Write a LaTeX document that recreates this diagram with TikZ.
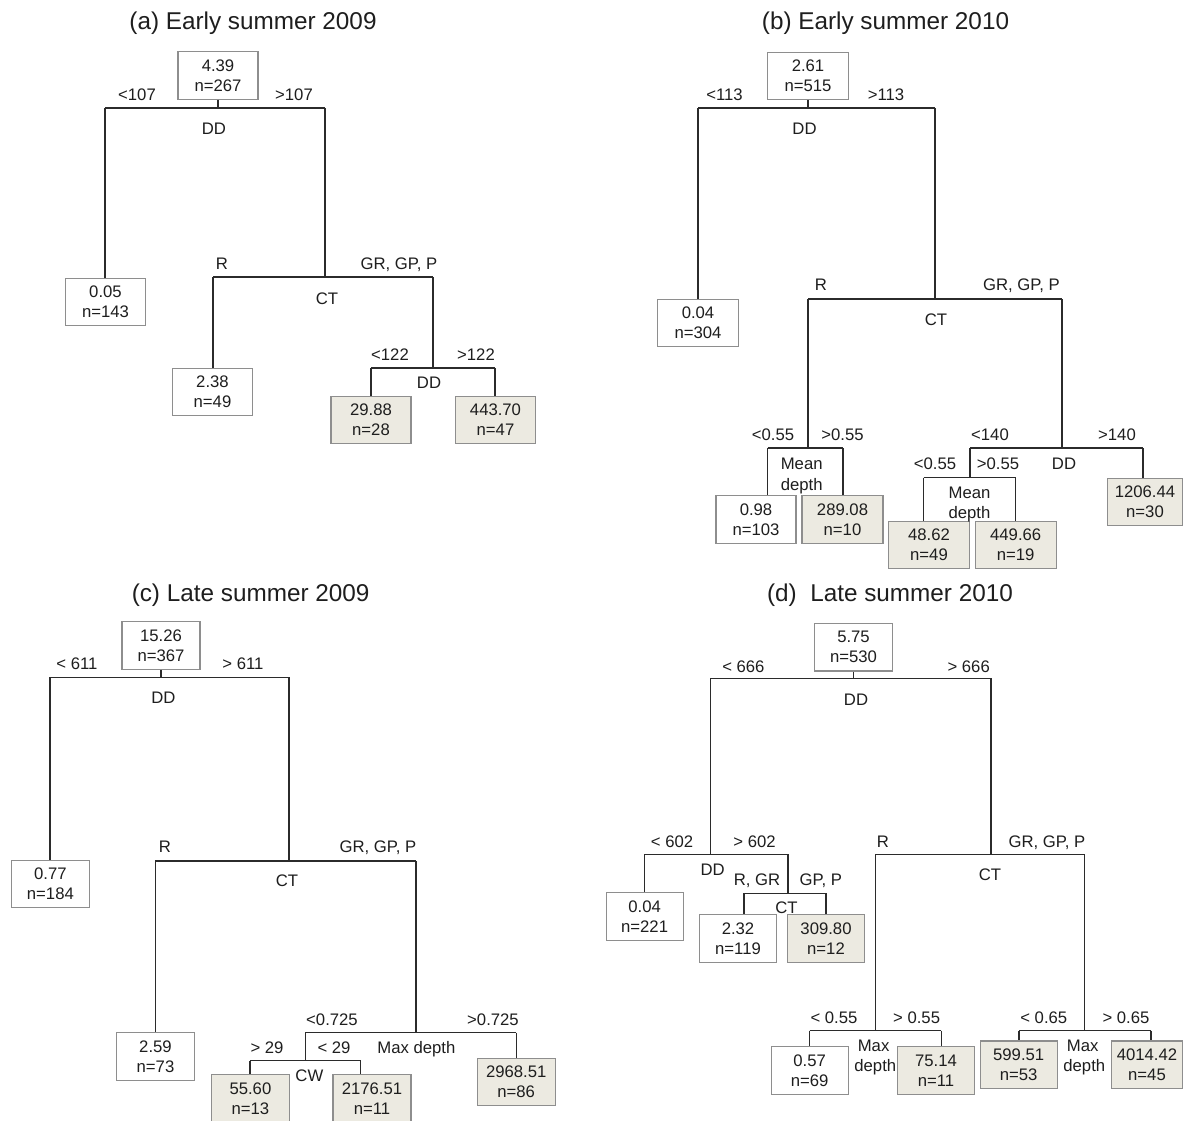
\documentclass[tikz,border=0pt]{standalone}
\usepackage{fontspec}
\setmainfont{Liberation Sans}
\definecolor{boxgray}{HTML}{8E8E8E}
\definecolor{leafshade}{HTML}{ECEAE1}
\definecolor{lncol}{HTML}{2B2B2B}
\definecolor{txcol}{HTML}{1E1E1E}
\newcommand{\labf}{\fontsize{8.35}{10}\selectfont}
\newcommand{\titf}{\fontsize{12.15}{14}\selectfont}
\begin{document}
\begin{tikzpicture}[x=0.5pt,y=-0.5pt,
  tb/.style={draw=boxgray, line width=0.6pt, fill=white, inner sep=0pt, align=center, font=\labf, text=txcol, minimum height=23.8pt, minimum width=#1},
  tb/.default=39.5pt,
  lsh/.style={fill=leafshade},
  lb/.style={font=\labf, text=txcol, inner sep=0pt, text height=6pt, text depth=0pt},
  ttl/.style={font=\titf, text=txcol, inner sep=0pt, anchor=base},
  br/.style={draw=lncol, line width=0.75pt}]
\useasboundingbox (0,0) rectangle (1189,1120);
\clip (0,0) rectangle (1189,1120);
\fill[white] (0,0) rectangle (1189,1120);

% ---------------- (a) ----------------
\node[ttl] (tA) at (253,29.5) {(a) Early summer 2009};
\node[tb=40pt] (a0) at (218,75.5) {4.39\\n=267};
\coordinate (aL) at (105,108); \coordinate (aR) at (325,108);
\draw[br] (a0.south) -- (a0.south |- aL);
\draw[br] (aL) -- (aR);
\node[lb] (a0l) at (137,94) {<107};
\node[lb] (a0r) at (294,94) {>107};
\node[lb] (a0v) at (214,128) {DD};
\node[tb=40pt] (a1) at (105.5,302) {0.05\\n=143};
\draw[br] (aL) -- (aL |- a1.north);
\coordinate (aCL) at (213,277); \coordinate (aCR) at (433,277);
\draw[br] (aR) -- (aR |- aCL);
\draw[br] (aCL) -- (aCR);
\node[lb] (a1l) at (222,263) {R};
\node[lb] (a1r) at (399,263) {GR, GP, P};
\node[lb] (a1v) at (327,298) {CT};
\node[tb=40pt] (a2) at (212.5,392) {2.38\\n=49};
\draw[br] (aCL) -- (aCL |- a2.north);
\coordinate (aDL) at (371,368); \coordinate (aDR) at (495,368);
\draw[br] (aCR) -- (aCR |- aDL);
\draw[br] (aDL) -- (aDR);
\node[lb] (a2l) at (390,354) {<122};
\node[lb] (a2r) at (476,354) {>122};
\node[lb] (a2v) at (429,382) {DD};
\node[tb=40pt,lsh] (a3) at (371,420) {29.88\\n=28};
\node[tb=40pt,lsh] (a4) at (495.5,420) {443.70\\n=47};
\draw[br] (aDL) -- (aDL |- a3.north);
\draw[br] (aDR) -- (aDR |- a4.north);

% ---------------- (b) ----------------
\node[ttl] (tB) at (885.5,29.5) {(b) Early summer 2010};
\node[tb=40.5pt] (b0) at (808,76) {2.61\\n=515};
\coordinate (bL) at (698,108); \coordinate (bR) at (935,108);
\draw[br] (b0.south) -- (b0.south |- bL);
\draw[br] (bL) -- (bR);
\node[lb] (b0l) at (724.5,94) {<113};
\node[lb] (b0r) at (886,94) {>113};
\node[lb] (b0v) at (804.5,128) {DD};
\node[tb=40.5pt] (b1) at (698,323) {0.04\\n=304};
\draw[br] (bL) -- (bL |- b1.north);
\coordinate (bCL) at (808,299); \coordinate (bCR) at (1062,299);
\draw[br] (bR) -- (bR |- bCL);
\draw[br] (bCL) -- (bCR);
\node[lb] (b1l) at (821,284) {R};
\node[lb] (b1r) at (1021.5,284) {GR, GP, P};
\node[lb] (b1v) at (936,319) {CT};
\coordinate (bML) at (767.5,448); \coordinate (bMR) at (843,448);
\draw[br] (bCL) -- (bCL |- bML);
\draw[br] (bML) -- (bMR);
\node[lb] (b2l) at (773,434) {<0.55};
\node[lb] (b2r) at (842.5,434) {>0.55};
\node[lb] (b2v) at (801.7,463) {Mean};
\node[lb] (b2w) at (801.7,484) {depth};
\node[tb=40pt] (b2) at (756,519.5) {0.98\\n=103};
\node[tb=40.5pt,lsh] (b3) at (842.5,519.5) {289.08\\n=10};
\draw[br] (bML) -- (bML |- b2.north);
\draw[br] (bMR) -- (bMR |- b3.north);
\coordinate (bDL) at (970,448); \coordinate (bDR) at (1143,448);
\draw[br] (bCR) -- (bCR |- bDL);
\draw[br] (bDL) -- (bDR);
\node[lb] (b3l) at (990,434) {<140};
\node[lb] (b3r) at (1117,434) {>140};
\node[lb] (b3v) at (1064,463) {DD};
\node[tb=37.5pt,lsh] (b4) at (1145,502) {1206.44\\n=30};
\draw[br] (bDR) -- (bDR |- b4.north);
\coordinate (bNL) at (923.5,477.7); \coordinate (bNR) at (1015.5,477.7);
\draw[br] (bDL) -- (bDL |- bNL);
\draw[br] (bNL) -- (bNR);
\node[lb] (b4l) at (935,463) {<0.55};
\node[lb] (b4r) at (998,463) {>0.55};
\node[lb] (b4v) at (969.5,492) {Mean};
\node[tb=40.5pt,lsh] (b5) at (929,545) {48.62\\n=49};
\node[tb=40.5pt,lsh] (b6) at (1015.7,545) {449.66\\n=19};
\node[lb] (b4w) at (969.5,512.7) {depth};
\draw[br] (bNL) -- (bNL |- b5.north);
\draw[br] (bNR) -- (bNR |- b6.north);

% ---------------- (c) ----------------
\node[ttl] (tC) at (250.6,601.5) {(c) Late summer 2009};
\node[tb=39pt] (c0) at (161,645.5) {15.26\\n=367};
\coordinate (cL) at (50,677.3); \coordinate (cR) at (289,677.3);
\draw[br] (c0.south) -- (c0.south |- cL);
\draw[br] (cL) -- (cR);
\node[lb] (c0l) at (77,663) {< 611};
\node[lb] (c0r) at (243,663) {> 611};
\node[lb] (c0v) at (163.5,697) {DD};
\node[tb=39pt] (c1) at (50.4,884) {0.77\\n=184};
\draw[br] (cL) -- (cL |- c1.north);
\coordinate (cCL) at (155.3,861); \coordinate (cCR) at (416,861);
\draw[br] (cR) -- (cR |- cCL);
\draw[br] (cCL) -- (cCR);
\node[lb] (c1l) at (165,846) {R};
\node[lb] (c1r) at (378,846) {GR, GP, P};
\node[lb] (c1v) at (287,880) {CT};
\node[tb=39pt] (c2) at (155.5,1056.5) {2.59\\n=73};
\draw[br] (cCL) -- (cCL |- c2.north);
\coordinate (cML) at (305.3,1032.7); \coordinate (cMR) at (516.4,1032.7);
\draw[br] (cCR) -- (cCR |- cML);
\draw[br] (cML) -- (cMR);
\node[lb] (c2l) at (332,1019) {<0.725};
\node[lb] (c2r) at (493,1019) {>0.725};
\node[lb] (c2v) at (416.4,1047.3) {Max depth};
\node[lb] (c3l) at (267,1047.3) {> 29};
\node[lb] (c3r) at (334,1047.3) {< 29};
\coordinate (cWL) at (250,1060.7); \coordinate (cWR) at (360.7,1060.7);
\draw[br] (cML) -- (cML |- cWL);
\draw[br] (cWL) -- (cWR);
\node[lb] (c3v) at (309.4,1075) {CW};
\node[tb=39pt,lsh] (c3) at (250.4,1098.5) {55.60\\n=13};
\node[tb=39pt,lsh] (c4) at (372,1098.5) {2176.51\\n=11};
\node[tb=39pt,lsh] (c5) at (516.2,1082) {2968.51\\n=86};
\draw[br] (cWL) -- (cWL |- c3.north);
\draw[br] (cWR) -- (cWR |- c4.north);
\draw[br] (cMR) -- (cMR |- c5.north);

% ---------------- (d) ----------------
\node[ttl] (tD) at (890,601.5) {(d)\ \ Late summer 2010};
\node[tb=39pt] (d0) at (853.5,647.2) {5.75\\n=530};
\coordinate (dL) at (710.7,678.3); \coordinate (dR) at (991,678.3);
\draw[br] (d0.south) -- (d0.south |- dL);
\draw[br] (dL) -- (dR);
\node[lb] (d0l) at (743.4,666) {< 666};
\node[lb] (d0r) at (968.7,666) {> 666};
\node[lb] (d0v) at (856,699) {DD};
\coordinate (dDL) at (644.6,854.3); \coordinate (dDR) at (787.9,854.3);
\draw[br] (dL) -- (dL |- dDL);
\draw[br] (dDL) -- (dDR);
\node[lb] (d1l) at (672,841) {< 602};
\node[lb] (d1r) at (754.5,841) {> 602};
\node[lb] (d1v) at (712.6,869) {DD};
\node[tb=38.5pt] (d1) at (644.6,916.3) {0.04\\n=221};
\draw[br] (dDL) -- (dDL |- d1.north);
\coordinate (dSL) at (744,893.3); \coordinate (dSR) at (826,893.3);
\draw[br] (dDR) -- (dDR |- dSL);
\draw[br] (dSL) -- (dSR);
\node[lb] (d2l) at (757,879.3) {R, GR};
\node[lb] (d2r) at (820.7,879.3) {GP, P};
\node[lb] (d2v) at (786.5,907.3) {CT};
\node[tb=38.5pt] (d2) at (738,938.5) {2.32\\n=119};
\node[tb=38.5pt,lsh] (d3) at (826,938.5) {309.80\\n=12};
\draw[br] (dSL) -- (dSL |- d2.north);
\draw[br] (dSR) -- (dSR |- d3.north);
\coordinate (dCL) at (875.7,854.3); \coordinate (dCR) at (1084.7,854.3);
\draw[br] (dR) -- (dR |- dCL);
\draw[br] (dCL) -- (dCR);
\node[lb] (d3l) at (883,841) {R};
\node[lb] (d3r) at (1047,841) {GR, GP, P};
\node[lb] (d3v) at (990,874) {CT};
\coordinate (dML) at (809.6,1030.7); \coordinate (dMR) at (941.4,1030.7);
\draw[br] (dCL) -- (dCL |- dML);
\draw[br] (dML) -- (dMR);
\node[lb] (d4l) at (834,1017) {< 0.55};
\node[lb] (d4r) at (916.6,1017) {> 0.55};
\node[lb] (d4v) at (873.6,1045) {Max};
\node[lb] (d4w) at (875.3,1065) {depth};
\node[tb=38.5pt] (d4) at (809.6,1070.5) {0.57\\n=69};
\node[tb=38.5pt,lsh] (d5) at (936,1070.5) {75.14\\n=11};
\draw[br] (dML) -- (dML |- d4.north);
\draw[br] (dMR) -- (dMR |- d5.north);
\coordinate (dNL) at (1019,1030.7); \coordinate (dNR) at (1151,1030.7);
\draw[br] (dCR) -- (dCR |- dNL);
\draw[br] (dNL) -- (dNR);
\node[lb] (d5l) at (1043.8,1017) {< 0.65};
\node[lb] (d5r) at (1126,1017) {> 0.65};
\node[lb] (d5v) at (1082.7,1045) {Max};
\node[lb] (d5w) at (1084.3,1065) {depth};
\node[tb=38.5pt,lsh] (d6) at (1018.7,1064.8) {599.51\\n=53};
\node[tb=35.5pt,lsh] (d7) at (1147,1064.8) {4014.42\\n=45};
\draw[br] (dNL) -- (dNL |- d6.north);
\draw[br] (dNR) -- (dNR |- d7.north);
\end{tikzpicture}
\end{document}
